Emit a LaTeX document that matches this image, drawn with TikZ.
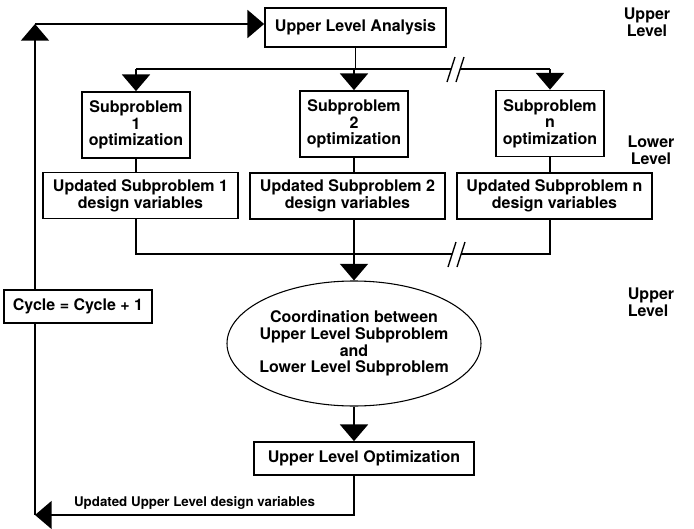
\documentclass[tikz,border=0pt]{standalone}
\usepackage{fontspec}
\setmainfont{TeX Gyre Heros}
\usetikzlibrary{arrows.meta,positioning,shapes.geometric}
\newcommand{\mainsize}{\fontsize{12}{12.5}\selectfont\bfseries}
\newcommand{\smallsize}{\fontsize{10}{12}\selectfont\bfseries}

\begin{document}
\begin{tikzpicture}[x=0.75pt, y=-0.75pt,
  box/.style={draw, line width=1.3pt, font=\mainsize, align=center, inner sep=0pt},
  sub/.style={box, minimum width=81pt, minimum height=49.5pt},
  upd/.style={box, minimum width=146.25pt, minimum height=34.5pt},
  lvl/.style={font=\mainsize, align=center},
  line/.style={line width=1.3pt},
  arr/.style={-{Triangle[width=21pt,length=12.5pt]}, line width=1.3pt},
  brk/.style={line width=1pt}]
  \useasboundingbox (0,0) rectangle (694,529);
  \node[box, minimum width=135.75pt, minimum height=29.25pt] (ula) at (355.5,27.5) {Upper Level Analysis};
  \node[sub] (sub1) at (136,125) {Subproblem\\1\\optimization};
  \node[sub] (sub2) at (354,124) {Subproblem\\2\\optimization};
  \node[sub] (subn) at (550,123.5) {Subproblem\\n\\optimization};
  \node[upd] (upd1) at (140.5,195.5) {Updated Subproblem 1\\design variables};
  \node[upd] (upd2) at (347.5,196) {Updated Subproblem 2\\design variables};
  \node[upd] (updn) at (554.5,196) {Updated Subproblem n\\design variables};
  \node[ellipse, draw, line width=0.8pt, font=\mainsize, align=center,
        inner xsep=-5pt, inner ysep=0pt,
        minimum width=190.5pt, minimum height=93.75pt] (coord) at (354,343.5)
        {Coordination between\\Upper Level Subproblem\\and\\Lower Level Subproblem};
  \node[box, minimum width=165pt, minimum height=24.75pt] (ulo) at (364,458.5) {Upper Level Optimization};
  \node[box, minimum width=111pt, minimum height=24.75pt] (cycle) at (78,306.5) {Cycle = Cycle + 1};
  \node[lvl] (lvup) at (647,22) {Upper\\Level};
  \node[lvl] (lvlow) at (651,150) {Lower\\Level};
  \node[lvl, align=left] (lvmid) at (651,302) {Upper\\Level};
  % corners and buses
  \coordinate (tl) at (35,24);
  \coordinate (bl) at (35,515);
  \coordinate (bus1) at (0,69);
  \coordinate (bus2) at (0,254);
  \coordinate (b1l) at (451,69);
  \coordinate (b1r) at (460,69);
  \coordinate (b2l) at (452,254);
  \coordinate (b2r) at (461,254);
  % top distribution
  \draw[line] (ula.south) -- (ula.south |- bus1);
  \draw[line] (sub1.north |- bus1) -- (b1l);
  \draw[line] (b1r) -- (subn.north |- bus1);
  \draw[brk] (447,82) -- (455,57) (456,82) -- (464,57);
  \foreach \s in {sub1,sub2,subn} {\draw[arr] (\s.north |- bus1) -- (\s.north);}
  \foreach \i in {1,2,n} {\draw[line] (sub\i.south) -- (sub\i.south |- upd\i.north);}
  % collect
  \draw[line] (sub1.south |- upd1.south) -- (sub1.south |- bus2) -- (b2l);
  \draw[line] (b2r) -- (subn.south |- bus2) -- (subn.south |- updn.south);
  \draw[line] (sub2.south |- upd2.south) -- (sub2.south |- bus2);
  \draw[brk] (448,267) -- (456,242) (457,267) -- (465,242);
  \draw[arr] (sub2.south |- bus2) -- (coord.north);
  \draw[arr] (coord.south) -- (coord.south |- ulo.north);
  % loop back
  \draw[arr] (coord.south |- ulo.south) -- (coord.south |- bl)
    -- node[above, font=\smallsize] (updlab) {Updated Upper Level design variables} (bl);
  \draw[line] (bl) -- (bl |- cycle.south);
  \draw[arr] (bl |- cycle.north) -- (tl);
  \draw[arr] (tl) -- (tl -| ula.west);
\end{tikzpicture}
\end{document}
